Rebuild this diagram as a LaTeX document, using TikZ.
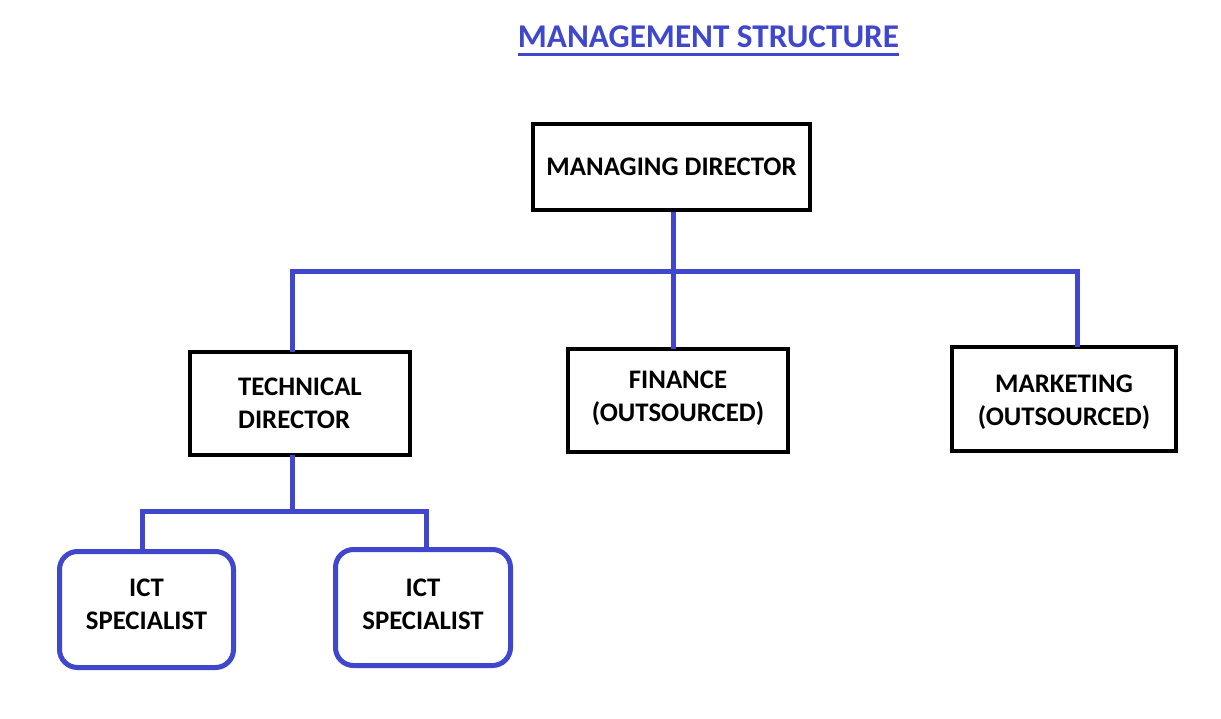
\documentclass[tikz,border=0pt]{standalone}
\usepackage{fontspec}
\setmainfont{Carlito}
\definecolor{indigo}{RGB}{63,72,204}
\newcommand\liftlines[2]{\raisebox{#1}[\height][\depth]{\begin{tabular}{@{}c@{}}#2\end{tabular}}}
\begin{document}
\begin{tikzpicture}[x=1pt,y=-1pt,
  box/.style={draw=black,line width=4pt,fill=white,align=center,inner sep=0pt,
    font=\fontsize{26.8}{33}\selectfont\bfseries},
  ictbox/.style={draw=indigo,line width=5pt,rounded corners=18pt,align=center,inner sep=0pt,
    minimum width=174pt,minimum height=116pt,font=\fontsize{26.8}{33}\selectfont\bfseries},
  link/.style={draw=indigo,line width=5pt}]
\useasboundingbox[fill=white] (0,0) rectangle (1221,719);
% title
\node[text=indigo,font=\fontsize{33.2}{38}\selectfont\bfseries,inner sep=0pt,anchor=base]
  (title) at (708.5,48) {MANAGEMENT STRUCTURE};
\draw[indigo,line width=3pt] (title.base west |- 0,54.5) -- (title.base east |- 0,54.5);
% boxes
\node[box,minimum width=277pt,minimum height=86pt] (md) at (671.5,167) {MANAGING DIRECTOR};
\node[box,minimum width=220pt,minimum height=103pt,align=left] (td) at (300,403.5) {TECHNICAL\\DIRECTOR};
\node[box,minimum width=220pt,minimum height=103pt] (fn) at (678,400.5) {\liftlines{2.5pt}{FINANCE\\(OUTSOURCED)}};
\node[box,minimum width=224pt,minimum height=104pt] (mk) at (1064,399) {\liftlines{-3.5pt}{MARKETING\\(OUTSOURCED)}};
\node[ictbox] (ict1) at (146.5,609.5) {\liftlines{3.5pt}{ICT\\SPECIALIST}};
\node[ictbox,minimum width=175pt] (ict2) at (423,607.5) {\liftlines{1.5pt}{ICT\\SPECIALIST}};
% connectors
\coordinate (j1) at (673,272);
\coordinate (j2) at (292,511);
\draw[link] (md.south -| j1) -- (j1);
\draw[link] ([xshift=-8pt,yshift=-2pt]td.north) |- (j1) -| ([xshift=13pt,yshift=-2pt]mk.north);
\draw[link] (j1) -- ([yshift=-2pt]fn.north -| j1);
\draw[link] ([xshift=-8pt,yshift=2pt]td.south) -- (j2);
\draw[link] ([xshift=-4.5pt,yshift=-2.5pt]ict1.north) |- (j2) -| ([xshift=3pt,yshift=-2.5pt]ict2.north);
\end{tikzpicture}
\end{document}
